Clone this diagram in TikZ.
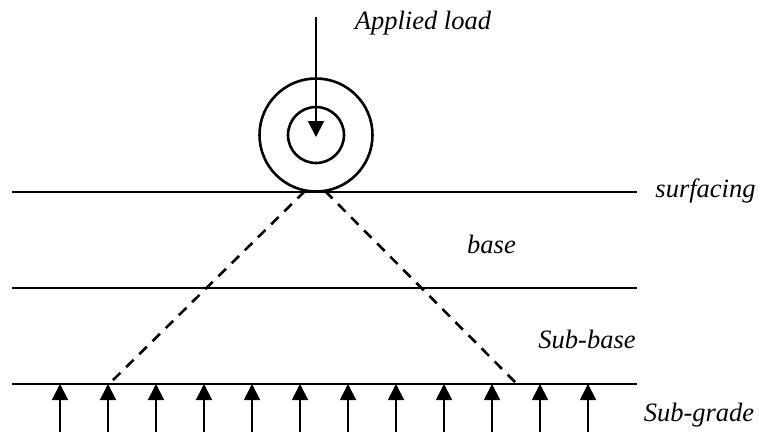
\documentclass[tikz,border=0pt]{standalone}
\usepackage{fontspec}
\setmainfont{Liberation Serif}
\usetikzlibrary{arrows.meta,positioning}
\definecolor{linegray}{HTML}{000000}

\begin{document}
\begin{tikzpicture}[
  x=1pt, y=-1pt,
  line width=2pt,
  >={Triangle[width=16pt,length=16pt]},
  layer/.style={draw=linegray, line width=2pt},
  spread/.style={draw=linegray, dash pattern=on 10.5pt off 8pt, line width=2.6pt},
  wheel/.style={circle, draw=linegray, inner sep=0pt, line width=2.6pt},
  force/.style={->, draw=linegray, line width=2pt},
  tag/.style={font=\fontsize{26.5}{30}\selectfont\itshape, inner sep=0pt, anchor=base}
]
  \useasboundingbox (0,0) rectangle (759,437);
  \node[wheel, minimum size=113pt] (outer) at (316,135) {};
  \node[wheel, minimum size=56pt] (inner) at (316,135) {};
  \coordinate (top) at (316,17);
  \coordinate (tip) at (316,137);
  \draw[force] (top) -- (tip);
  % layer boundaries
  \coordinate (s1) at (12,192);
  \coordinate (s2) at (637,192);
  \coordinate (b1) at (12,288);
  \coordinate (b2) at (637,288);
  \coordinate (g1) at (12,384);
  \coordinate (g2) at (637,384);
  \draw[layer] (s1) -- (s2);
  \draw[layer] (b1) -- (b2);
  \draw[layer] (g1) -- (g2);
  % load spread
  \coordinate (apexl) at (305,191);
  \coordinate (apexr) at (325,191);
  \coordinate (left) at (110,383);
  \coordinate (right) at (516,383);
  \draw[spread] (apexl) -- (left);
  \draw[spread] (apexr) -- (right);
  % reaction from below
  \foreach \x in {60,108,156,204,252,300,348,396,444,492,540,588} {
    \coordinate (p\x) at (\x,432);
    \coordinate (q\x) at (\x,384);
    \draw[force] (p\x) -- (q\x);
  }
  \node[tag] (load) at (423,29.5) {Applied load};
  \node[tag] (surf) at (705.5,197) {surfacing};
  \node[tag] (base) at (491.5,253) {base};
  \node[tag] (sbase) at (587,348.5) {Sub-base};
  \node[tag] (sgrade) at (699,421.5) {Sub-grade};
\end{tikzpicture}
\end{document}
